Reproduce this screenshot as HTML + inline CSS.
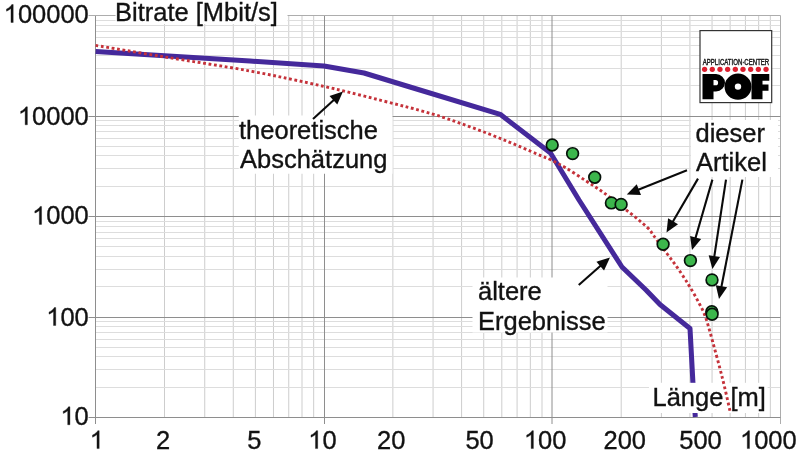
<!DOCTYPE html><html><head><meta charset="utf-8"><style>html,body{margin:0;padding:0;background:#fff;}svg{display:block;}text{font-family:"Liberation Sans",sans-serif;fill:#111;stroke:#111;stroke-width:0.35px;}</style></head><body>
<svg width="800" height="452" viewBox="0 0 800 452">
<rect width="800" height="452" fill="#fff"/>
<g shape-rendering="auto"><line x1="164.53" y1="15.50" x2="164.53" y2="417.50" stroke="#cdcdcd" stroke-width="1"/><line x1="204.74" y1="15.50" x2="204.74" y2="417.50" stroke="#cdcdcd" stroke-width="1"/><line x1="233.27" y1="15.50" x2="233.27" y2="417.50" stroke="#cdcdcd" stroke-width="1"/><line x1="255.40" y1="15.50" x2="255.40" y2="417.50" stroke="#cdcdcd" stroke-width="1"/><line x1="273.48" y1="15.50" x2="273.48" y2="417.50" stroke="#cdcdcd" stroke-width="1"/><line x1="288.76" y1="15.50" x2="288.76" y2="417.50" stroke="#cdcdcd" stroke-width="1"/><line x1="302.00" y1="15.50" x2="302.00" y2="417.50" stroke="#cdcdcd" stroke-width="1"/><line x1="313.68" y1="15.50" x2="313.68" y2="417.50" stroke="#cdcdcd" stroke-width="1"/><line x1="392.86" y1="15.50" x2="392.86" y2="417.50" stroke="#cdcdcd" stroke-width="1"/><line x1="433.07" y1="15.50" x2="433.07" y2="417.50" stroke="#cdcdcd" stroke-width="1"/><line x1="461.60" y1="15.50" x2="461.60" y2="417.50" stroke="#cdcdcd" stroke-width="1"/><line x1="483.73" y1="15.50" x2="483.73" y2="417.50" stroke="#cdcdcd" stroke-width="1"/><line x1="501.81" y1="15.50" x2="501.81" y2="417.50" stroke="#cdcdcd" stroke-width="1"/><line x1="517.09" y1="15.50" x2="517.09" y2="417.50" stroke="#cdcdcd" stroke-width="1"/><line x1="530.33" y1="15.50" x2="530.33" y2="417.50" stroke="#cdcdcd" stroke-width="1"/><line x1="542.01" y1="15.50" x2="542.01" y2="417.50" stroke="#cdcdcd" stroke-width="1"/><line x1="621.19" y1="15.50" x2="621.19" y2="417.50" stroke="#cdcdcd" stroke-width="1"/><line x1="661.40" y1="15.50" x2="661.40" y2="417.50" stroke="#cdcdcd" stroke-width="1"/><line x1="689.93" y1="15.50" x2="689.93" y2="417.50" stroke="#cdcdcd" stroke-width="1"/><line x1="712.06" y1="15.50" x2="712.06" y2="417.50" stroke="#cdcdcd" stroke-width="1"/><line x1="730.14" y1="15.50" x2="730.14" y2="417.50" stroke="#cdcdcd" stroke-width="1"/><line x1="745.42" y1="15.50" x2="745.42" y2="417.50" stroke="#cdcdcd" stroke-width="1"/><line x1="758.66" y1="15.50" x2="758.66" y2="417.50" stroke="#cdcdcd" stroke-width="1"/><line x1="770.34" y1="15.50" x2="770.34" y2="417.50" stroke="#cdcdcd" stroke-width="1"/><line x1="95.50" y1="387.50" x2="780.50" y2="387.50" stroke="#dddddd" stroke-width="1"/><line x1="95.50" y1="369.50" x2="780.50" y2="369.50" stroke="#dddddd" stroke-width="1"/><line x1="95.50" y1="356.50" x2="780.50" y2="356.50" stroke="#dddddd" stroke-width="1"/><line x1="95.50" y1="347.50" x2="780.50" y2="347.50" stroke="#dddddd" stroke-width="1"/><line x1="95.50" y1="339.50" x2="780.50" y2="339.50" stroke="#dddddd" stroke-width="1"/><line x1="95.50" y1="332.50" x2="780.50" y2="332.50" stroke="#dddddd" stroke-width="1"/><line x1="95.50" y1="326.50" x2="780.50" y2="326.50" stroke="#dddddd" stroke-width="1"/><line x1="95.50" y1="321.50" x2="780.50" y2="321.50" stroke="#dddddd" stroke-width="1"/><line x1="95.50" y1="286.50" x2="780.50" y2="286.50" stroke="#dddddd" stroke-width="1"/><line x1="95.50" y1="269.50" x2="780.50" y2="269.50" stroke="#dddddd" stroke-width="1"/><line x1="95.50" y1="256.50" x2="780.50" y2="256.50" stroke="#dddddd" stroke-width="1"/><line x1="95.50" y1="246.50" x2="780.50" y2="246.50" stroke="#dddddd" stroke-width="1"/><line x1="95.50" y1="238.50" x2="780.50" y2="238.50" stroke="#dddddd" stroke-width="1"/><line x1="95.50" y1="232.50" x2="780.50" y2="232.50" stroke="#dddddd" stroke-width="1"/><line x1="95.50" y1="226.50" x2="780.50" y2="226.50" stroke="#dddddd" stroke-width="1"/><line x1="95.50" y1="221.50" x2="780.50" y2="221.50" stroke="#dddddd" stroke-width="1"/><line x1="95.50" y1="186.50" x2="780.50" y2="186.50" stroke="#dddddd" stroke-width="1"/><line x1="95.50" y1="168.50" x2="780.50" y2="168.50" stroke="#dddddd" stroke-width="1"/><line x1="95.50" y1="155.50" x2="780.50" y2="155.50" stroke="#dddddd" stroke-width="1"/><line x1="95.50" y1="146.50" x2="780.50" y2="146.50" stroke="#dddddd" stroke-width="1"/><line x1="95.50" y1="138.50" x2="780.50" y2="138.50" stroke="#dddddd" stroke-width="1"/><line x1="95.50" y1="131.50" x2="780.50" y2="131.50" stroke="#dddddd" stroke-width="1"/><line x1="95.50" y1="125.50" x2="780.50" y2="125.50" stroke="#dddddd" stroke-width="1"/><line x1="95.50" y1="120.50" x2="780.50" y2="120.50" stroke="#dddddd" stroke-width="1"/><line x1="95.50" y1="85.50" x2="780.50" y2="85.50" stroke="#dddddd" stroke-width="1"/><line x1="95.50" y1="68.50" x2="780.50" y2="68.50" stroke="#dddddd" stroke-width="1"/><line x1="95.50" y1="55.50" x2="780.50" y2="55.50" stroke="#dddddd" stroke-width="1"/><line x1="95.50" y1="45.50" x2="780.50" y2="45.50" stroke="#dddddd" stroke-width="1"/><line x1="95.50" y1="37.50" x2="780.50" y2="37.50" stroke="#dddddd" stroke-width="1"/><line x1="95.50" y1="31.50" x2="780.50" y2="31.50" stroke="#dddddd" stroke-width="1"/><line x1="95.50" y1="25.50" x2="780.50" y2="25.50" stroke="#dddddd" stroke-width="1"/><line x1="95.50" y1="20.50" x2="780.50" y2="20.50" stroke="#dddddd" stroke-width="1"/><line x1="95.50" y1="15.50" x2="95.50" y2="424.00" stroke="#8e8e8e" stroke-width="1"/><line x1="324.50" y1="15.50" x2="324.50" y2="424.00" stroke="#8e8e8e" stroke-width="1"/><line x1="552.00" y1="15.50" x2="552.00" y2="424.00" stroke="#8e8e8e" stroke-width="1"/><line x1="780.50" y1="15.50" x2="780.50" y2="424.00" stroke="#adadad" stroke-width="1"/><line x1="88.50" y1="417.50" x2="780.50" y2="417.50" stroke="#8e8e8e" stroke-width="1"/><line x1="88.50" y1="317.50" x2="780.50" y2="317.50" stroke="#8e8e8e" stroke-width="1"/><line x1="88.50" y1="216.50" x2="780.50" y2="216.50" stroke="#8e8e8e" stroke-width="1"/><line x1="88.50" y1="116.50" x2="780.50" y2="116.50" stroke="#8e8e8e" stroke-width="1"/><line x1="88.50" y1="15.50" x2="780.50" y2="15.50" stroke="#adadad" stroke-width="1"/></g>
<polyline fill="none" stroke="#45299b" stroke-width="5" stroke-linejoin="round" points="95.6,51.4 250,61 324,66 364,73 410,87 500.2,114.3 550.5,153 579,200 622,267 646,290 660,304.5 690,328.5 692.9,382 695.3,417"/>
<rect x="115.5" y="0" width="172" height="24" fill="#fff"/>
<rect x="238.75" y="115.5" width="153.75" height="58.25" fill="#fff"/>
<rect x="472.5" y="277.5" width="135" height="55" fill="#fff"/>
<rect x="691" y="120" width="87" height="57" fill="#fff"/>
<rect x="649" y="382.8" width="118.6" height="30.2" fill="#fff"/>
<rect x="700" y="30.6" width="71.7" height="72" fill="#fff" stroke="#333" stroke-width="1.2"/>
<g opacity="0.995">
<text x="0" y="0" font-size="8.5" transform="translate(702.7,64.8) scale(0.64,1)" textLength="104" lengthAdjust="spacingAndGlyphs" style="fill:#1a1a1a;stroke:#1a1a1a;stroke-width:0.45px">APPLICATION·CENTER</text>
<text transform="translate(115,20.75) scale(1.02,1)" font-size="25" text-anchor="start">Bitrate [Mbit/s]</text>
<text transform="translate(239,138.75) scale(1.02,1)" font-size="25" text-anchor="start">theoretische</text>
<text transform="translate(240,167.5) scale(1.02,1)" font-size="25" text-anchor="start">Abschätzung</text>
<text transform="translate(478,300) scale(1.02,1)" font-size="25" text-anchor="start">ältere</text>
<text transform="translate(478,329.5) scale(1.02,1)" font-size="25" text-anchor="start">Ergebnisse</text>
<text transform="translate(695.5,142) scale(1.02,1)" font-size="25" text-anchor="start">dieser</text>
<text transform="translate(696,171) scale(1.02,1)" font-size="25" text-anchor="start">Artikel</text>
<text transform="translate(652.5,405.6) scale(1.02,1)" font-size="25" text-anchor="start">Länge [m]</text>
<path transform="translate(3.71,22.5) scale(0.012451,-0.012207)" d="M763 0H583V1147Q518 1085 412.5 1023Q307 961 223 930V1104Q374 1175 487 1276Q600 1377 647 1472H763Z" fill="#111" stroke="#111" stroke-width="28"/>
<text transform="translate(17.89,22.5) scale(1.02,1)" font-size="25" text-anchor="start">00000</text>
<path transform="translate(17.89,124.8) scale(0.012451,-0.012207)" d="M763 0H583V1147Q518 1085 412.5 1023Q307 961 223 930V1104Q374 1175 487 1276Q600 1377 647 1472H763Z" fill="#111" stroke="#111" stroke-width="28"/>
<text transform="translate(32.07,124.8) scale(1.02,1)" font-size="25" text-anchor="start">0000</text>
<path transform="translate(32.07,224.4) scale(0.012451,-0.012207)" d="M763 0H583V1147Q518 1085 412.5 1023Q307 961 223 930V1104Q374 1175 487 1276Q600 1377 647 1472H763Z" fill="#111" stroke="#111" stroke-width="28"/>
<text transform="translate(46.25,224.4) scale(1.02,1)" font-size="25" text-anchor="start">000</text>
<path transform="translate(46.25,325.5) scale(0.012451,-0.012207)" d="M763 0H583V1147Q518 1085 412.5 1023Q307 961 223 930V1104Q374 1175 487 1276Q600 1377 647 1472H763Z" fill="#111" stroke="#111" stroke-width="28"/>
<text transform="translate(60.44,325.5) scale(1.02,1)" font-size="25" text-anchor="start">00</text>
<path transform="translate(60.44,424.75) scale(0.012451,-0.012207)" d="M763 0H583V1147Q518 1085 412.5 1023Q307 961 223 930V1104Q374 1175 487 1276Q600 1377 647 1472H763Z" fill="#111" stroke="#111" stroke-width="28"/>
<text transform="translate(74.62,424.75) scale(1.02,1)" font-size="25" text-anchor="start">0</text>
<path transform="translate(89.70,448.6) scale(0.012451,-0.012207)" d="M763 0H583V1147Q518 1085 412.5 1023Q307 961 223 930V1104Q374 1175 487 1276Q600 1377 647 1472H763Z" fill="#111" stroke="#111" stroke-width="28"/>
<text transform="translate(156,448.6) scale(1.02,1)" font-size="25" text-anchor="start">2</text>
<text transform="translate(247.2,448.6) scale(1.02,1)" font-size="25" text-anchor="start">5</text>
<path transform="translate(308.20,448.6) scale(0.012451,-0.012207)" d="M763 0H583V1147Q518 1085 412.5 1023Q307 961 223 930V1104Q374 1175 487 1276Q600 1377 647 1472H763Z" fill="#111" stroke="#111" stroke-width="28"/>
<text transform="translate(322.38,448.6) scale(1.02,1)" font-size="25" text-anchor="start">0</text>
<text transform="translate(377,448.6) scale(1.02,1)" font-size="25" text-anchor="start">20</text>
<text transform="translate(465.4,448.6) scale(1.02,1)" font-size="25" text-anchor="start">50</text>
<path transform="translate(523.90,448.6) scale(0.012451,-0.012207)" d="M763 0H583V1147Q518 1085 412.5 1023Q307 961 223 930V1104Q374 1175 487 1276Q600 1377 647 1472H763Z" fill="#111" stroke="#111" stroke-width="28"/>
<text transform="translate(538.08,448.6) scale(1.02,1)" font-size="25" text-anchor="start">00</text>
<text transform="translate(603.5,448.6) scale(1.02,1)" font-size="25" text-anchor="start">200</text>
<text transform="translate(679.2,448.6) scale(1.02,1)" font-size="25" text-anchor="start">500</text>
<path transform="translate(740.00,448.6) scale(0.012451,-0.012207)" d="M763 0H583V1147Q518 1085 412.5 1023Q307 961 223 930V1104Q374 1175 487 1276Q600 1377 647 1472H763Z" fill="#111" stroke="#111" stroke-width="28"/>
<text transform="translate(754.18,448.6) scale(1.02,1)" font-size="25" text-anchor="start">000</text>
</g>
<path d="M95.6,45.4 C107.07,47.32 138.67,52.63 164.4,56.9 C190.13,61.17 223.40,66.08 250,71 C276.60,75.92 301.96,81.45 324,86.4 C346.04,91.35 364.29,96.14 382.25,100.7 C400.21,105.26 417.12,109.40 431.75,113.75 C446.38,118.10 457.62,122.30 470,126.8 C482.38,131.30 494.75,136.18 506,140.75 C517.25,145.32 530.00,151.06 537.5,154.25 C545.00,157.44 546.27,157.62 551,159.9 C555.73,162.18 560.10,164.42 565.9,167.9 C571.70,171.38 579.50,176.67 585.8,180.8 C592.10,184.93 596.40,187.40 603.7,192.7 C611.00,198.00 622.30,206.78 629.6,212.6 C636.90,218.42 643.45,223.70 647.5,227.6 C651.55,231.50 650.67,231.68 653.9,236 C657.13,240.32 663.08,248.37 666.9,253.5 C670.72,258.63 673.82,262.58 676.8,266.8 C679.78,271.02 682.63,275.48 684.8,278.8 C686.97,282.12 687.65,283.07 689.8,286.7 C691.95,290.33 695.12,295.63 697.7,300.6 C700.28,305.57 702.80,309.63 705.3,316.5 C707.80,323.37 710.30,333.27 712.7,341.8 C715.10,350.33 717.70,360.07 719.7,367.7 C721.70,375.33 722.98,380.38 724.7,387.6 C726.42,394.82 729.12,407.10 730,411" fill="none" stroke="#c5323a" stroke-width="2.9" stroke-dasharray="2.8 2.65"/>
<circle cx="552.2" cy="145" r="5.85" fill="#3cb64c" stroke="#06120a" stroke-width="1.7"/>
<circle cx="572.6" cy="153.6" r="5.85" fill="#3cb64c" stroke="#06120a" stroke-width="1.7"/>
<circle cx="594.7" cy="177.3" r="5.85" fill="#3cb64c" stroke="#06120a" stroke-width="1.7"/>
<circle cx="611.4" cy="202.9" r="5.85" fill="#3cb64c" stroke="#06120a" stroke-width="1.7"/>
<circle cx="621.1" cy="204.4" r="5.85" fill="#3cb64c" stroke="#06120a" stroke-width="1.7"/>
<circle cx="663.1" cy="244.2" r="5.85" fill="#3cb64c" stroke="#06120a" stroke-width="1.7"/>
<circle cx="690.4" cy="260.6" r="5.85" fill="#3cb64c" stroke="#06120a" stroke-width="1.7"/>
<circle cx="712" cy="279.9" r="5.85" fill="#3cb64c" stroke="#06120a" stroke-width="1.7"/>
<circle cx="711.8" cy="311.8" r="5.85" fill="#3cb64c" stroke="#06120a" stroke-width="1.7"/>
<circle cx="712.1" cy="314.2" r="5.85" fill="#3cb64c" stroke="#06120a" stroke-width="1.7"/>
<line x1="313" y1="119" x2="334.88" y2="99.02" stroke="#0a0a0a" stroke-width="2.1"/>
<polygon points="343.00,91.60 337.28,104.61 329.52,96.12" fill="#0a0a0a"/>
<line x1="578.75" y1="285" x2="601.74" y2="264.77" stroke="#0a0a0a" stroke-width="2.1"/>
<polygon points="610.00,257.50 604.04,270.40 596.44,261.77" fill="#0a0a0a"/>
<line x1="687" y1="170.3" x2="637.01" y2="190.31" stroke="#0a0a0a" stroke-width="2.1"/>
<polygon points="626.80,194.40 636.73,184.23 641.01,194.91" fill="#0a0a0a"/>
<line x1="698" y1="178.6" x2="672.05" y2="223.00" stroke="#0a0a0a" stroke-width="2.1"/>
<polygon points="666.50,232.50 668.09,218.37 678.02,224.18" fill="#0a0a0a"/>
<line x1="712.4" y1="179.6" x2="695.06" y2="239.43" stroke="#0a0a0a" stroke-width="2.1"/>
<polygon points="692.00,250.00 690.10,235.91 701.14,239.11" fill="#0a0a0a"/>
<line x1="726" y1="179.6" x2="714.05" y2="258.13" stroke="#0a0a0a" stroke-width="2.1"/>
<polygon points="712.40,269.00 708.67,255.28 720.04,257.01" fill="#0a0a0a"/>
<line x1="742.4" y1="179.6" x2="721.12" y2="288.21" stroke="#0a0a0a" stroke-width="2.1"/>
<polygon points="719.00,299.00 715.86,285.14 727.14,287.35" fill="#0a0a0a"/>
<circle cx="704.60" cy="69.3" r="2.65" fill="#dc1f2e"/>
<circle cx="712.28" cy="69.3" r="2.65" fill="#dc1f2e"/>
<circle cx="719.96" cy="69.3" r="2.65" fill="#dc1f2e"/>
<circle cx="727.64" cy="69.3" r="2.65" fill="#dc1f2e"/>
<circle cx="735.32" cy="69.3" r="2.65" fill="#dc1f2e"/>
<circle cx="743.00" cy="69.3" r="2.65" fill="#dc1f2e"/>
<circle cx="750.68" cy="69.3" r="2.65" fill="#dc1f2e"/>
<circle cx="758.36" cy="69.3" r="2.65" fill="#dc1f2e"/>
<circle cx="766.04" cy="69.3" r="2.65" fill="#dc1f2e"/>
<g fill="#000">
<path fill-rule="evenodd" d="M702.5,74.1 H716 A9,8.65 0 0 1 716,91.4 H713.5 V99.2 H702.5 Z M713.5,80 V85.3 H715.5 A2.6,2.65 0 0 0 715.5,80 Z"/>
<path fill-rule="evenodd" d="M738,73.6 A13.4,13 0 1 0 738,99.7 A13.4,13 0 1 0 738,73.6 Z M738,83.4 A3.2,3.2 0 1 1 738,89.8 A3.2,3.2 0 1 1 738,83.4 Z"/>
<path d="M751.5,74.1 H769.3 V80.7 H762.5 V84.5 H768.5 V90.8 H762.5 V99.2 H751.5 Z"/>
</g>
</svg></body></html>
